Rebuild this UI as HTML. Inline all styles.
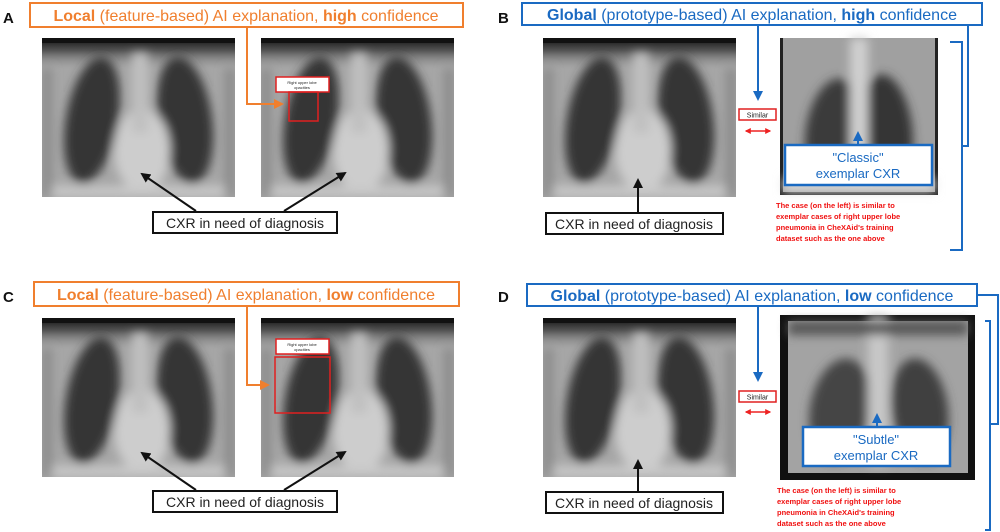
<!DOCTYPE html>
<html><head><meta charset="utf-8"><style>
html,body{margin:0;padding:0;background:#fff;width:1000px;height:532px;overflow:hidden}
svg{display:block;font-family:"Liberation Sans",Arial,sans-serif}
</style></head><body>
<svg width="1000" height="532" viewBox="0 0 1000 532" xmlns="http://www.w3.org/2000/svg">
<defs>
<filter id="bl" x="-20%" y="-20%" width="140%" height="140%"><feGaussianBlur stdDeviation="5"/></filter>
<filter id="bl2"><feGaussianBlur stdDeviation="3"/></filter>
<linearGradient id="top" x1="0" y1="0" x2="0" y2="1"><stop offset="0" stop-color="#111"/><stop offset="0.08" stop-color="#555"/><stop offset="0.2" stop-color="#9a9a9a" stop-opacity="0"/></linearGradient>
<clipPath id="cp"><rect x="0" y="0" width="193" height="159"/></clipPath>
<g id="xr">
<g clip-path="url(#cp)">
<rect width="193" height="159" fill="#a6a6a6"/>
<rect width="193" height="159" fill="url(#top)"/>
<g filter="url(#bl)">
<ellipse cx="50" cy="82" rx="26" ry="64" fill="#353535" transform="rotate(10 50 82)"/>
<ellipse cx="143" cy="82" rx="27" ry="64" fill="#353535" transform="rotate(-8 143 82)"/>
<ellipse cx="100" cy="112" rx="28" ry="42" fill="#cdcdcd"/>
<rect x="90" y="15" width="16" height="80" fill="#c0c0c0"/>
<rect x="0" y="148" width="193" height="11" fill="#c9c9c9"/>
<rect x="0" y="30" width="10" height="129" fill="#8a8a8a"/>
<rect x="183" y="30" width="10" height="129" fill="#8a8a8a"/>
</g>
<rect x="0" y="0" width="193" height="5" fill="#111"/>
</g>
</g>
<g id="ex1">
<rect width="158" height="157" fill="#222"/>
<rect x="3" y="0" width="152" height="154" fill="#a0a0a0"/>
<g filter="url(#bl)">
<ellipse cx="52" cy="92" rx="26" ry="52" fill="#3a3a3a" transform="rotate(10 52 92)"/>
<ellipse cx="108" cy="90" rx="24" ry="54" fill="#363636" transform="rotate(-8 108 90)"/>
<rect x="70" y="0" width="18" height="150" fill="#d0d0d0"/>
<rect x="3" y="140" width="152" height="14" fill="#d8d8d8"/>
</g>
</g>
<g id="ex2">
<rect width="195" height="165" fill="#111"/>
<rect x="8" y="6" width="180" height="152" fill="#a3a3a3"/>
<g filter="url(#bl)">
<ellipse cx="60" cy="95" rx="30" ry="52" fill="#444" transform="rotate(10 60 95)"/>
<ellipse cx="140" cy="95" rx="28" ry="52" fill="#404040" transform="rotate(-8 140 95)"/>
<rect x="88" y="0" width="20" height="150" fill="#c8c8c8"/>
<rect x="8" y="6" width="180" height="14" fill="#555"/>
</g>
</g>
<marker id="ao" viewBox="0 0 10 10" refX="8" refY="5" markerWidth="5" markerHeight="5" orient="auto"><path d="M0,0L10,5L0,10z" fill="#f07f2e"/></marker>
<marker id="ab" viewBox="0 0 10 10" refX="8" refY="5" markerWidth="5" markerHeight="5" orient="auto"><path d="M0,0L10,5L0,10z" fill="#1a6ac2"/></marker>
<marker id="ak" viewBox="0 0 10 10" refX="8" refY="5" markerWidth="5" markerHeight="5" orient="auto"><path d="M0,0L10,5L0,10z" fill="#111"/></marker>
<marker id="ar" viewBox="0 0 10 10" refX="8" refY="5" markerWidth="4" markerHeight="4" orient="auto-start-reverse"><path d="M0,0L10,5L0,10z" fill="#e22"/></marker>
</defs>

<g>
<text x="3" y="23" font-size="15" font-weight="bold" fill="#111">A</text>
<rect x="30" y="3" width="433" height="24" fill="#fff" stroke="#f07f2e" stroke-width="2"/>
<text x="246" y="21" font-size="16" fill="#f07f2e" text-anchor="middle"><tspan font-weight="bold">Local</tspan> (feature-based) AI explanation, <tspan font-weight="bold">high</tspan> confidence</text>
<use href="#xr" x="42" y="38"/>
<use href="#xr" x="261" y="38"/>
<rect x="276" y="77" width="53" height="15" fill="#fff" stroke="#e02020" stroke-width="1.5"/>
<text x="302" y="84" font-size="4" text-anchor="middle" fill="#222">Right upper lobe</text>
<text x="302" y="89" font-size="4" text-anchor="middle" fill="#222">opacities</text>
<rect x="289" y="92" width="29" height="29" fill="none" stroke="#e02020" stroke-width="1.5"/>
<path d="M247,28V104H282" fill="none" stroke="#f07f2e" stroke-width="2" marker-end="url(#ao)"/>
<path d="M196,211L142,174" stroke="#111" stroke-width="2" marker-end="url(#ak)"/>
<path d="M284,211L345,173" stroke="#111" stroke-width="2" marker-end="url(#ak)"/>
<rect x="153" y="212" width="184" height="21" fill="#fff" stroke="#111" stroke-width="2"/>
<text x="245" y="228" font-size="14" text-anchor="middle" fill="#222">CXR in need of diagnosis</text>
</g>

<g>
<text x="3" y="302" font-size="15" font-weight="bold" fill="#111">C</text>
<rect x="34" y="282" width="425" height="24" fill="#fff" stroke="#f07f2e" stroke-width="2"/>
<text x="246" y="300" font-size="16" fill="#f07f2e" text-anchor="middle"><tspan font-weight="bold">Local</tspan> (feature-based) AI explanation, <tspan font-weight="bold">low</tspan> confidence</text>
<use href="#xr" x="42" y="318"/>
<use href="#xr" x="261" y="318"/>
<rect x="276" y="339" width="53" height="15" fill="#fff" stroke="#e02020" stroke-width="1.5"/>
<text x="302" y="346" font-size="4" text-anchor="middle" fill="#222">Right upper lobe</text>
<text x="302" y="351" font-size="4" text-anchor="middle" fill="#222">opacities</text>
<rect x="275" y="357" width="55" height="56" fill="none" stroke="#e02020" stroke-width="1.5"/>
<path d="M247,307V385H268" fill="none" stroke="#f07f2e" stroke-width="2" marker-end="url(#ao)"/>
<path d="M196,490L142,453" stroke="#111" stroke-width="2" marker-end="url(#ak)"/>
<path d="M284,490L345,452" stroke="#111" stroke-width="2" marker-end="url(#ak)"/>
<rect x="153" y="491" width="184" height="21" fill="#fff" stroke="#111" stroke-width="2"/>
<text x="245" y="507" font-size="14" text-anchor="middle" fill="#222">CXR in need of diagnosis</text>
</g>

<g>
<text x="498" y="23" font-size="15" font-weight="bold" fill="#111">B</text>
<rect x="522" y="3" width="460" height="22" fill="#fff" stroke="#1a6ac2" stroke-width="2"/>
<text x="752" y="20" font-size="16" fill="#1a6ac2" text-anchor="middle"><tspan font-weight="bold">Global</tspan> (prototype-based) AI explanation, <tspan font-weight="bold">high</tspan> confidence</text>
<use href="#xr" x="543" y="38"/>
<use href="#ex1" x="780" y="38"/>
<path d="M758,26V99" stroke="#1a6ac2" stroke-width="2" marker-end="url(#ab)"/>
<rect x="739" y="109" width="37" height="11" fill="#fff" stroke="#e02020" stroke-width="1.5"/>
<text x="757.5" y="117.5" font-size="7" text-anchor="middle" fill="#222">Similar</text>
<path d="M746,131H770" stroke="#e22" stroke-width="1.5" marker-start="url(#ar)" marker-end="url(#ar)"/>
<path d="M858,145V133" stroke="#1a6ac2" stroke-width="2" marker-end="url(#ab)"/>
<rect x="785" y="145" width="147" height="40" fill="#fff" stroke="#1a6ac2" stroke-width="2.5"/>
<text x="858" y="162" font-size="13" text-anchor="middle" fill="#1a6ac2">"Classic"</text>
<text x="858" y="178" font-size="13" text-anchor="middle" fill="#1a6ac2">exemplar CXR</text>
<g font-size="7.5" font-weight="bold" fill="#f01010">
<text x="776" y="208">The case (on the left) is similar to</text>
<text x="776" y="219">exemplar cases of  right upper lobe</text>
<text x="776" y="230">pneumonia in CheXAid's  training</text>
<text x="776" y="241">dataset such as the one above</text>
</g>
<path d="M950,42H962V250H950M962,146H968V25" fill="none" stroke="#1a6ac2" stroke-width="2"/>
<path d="M638,212V180" stroke="#111" stroke-width="2" marker-end="url(#ak)"/>
<rect x="546" y="213" width="177" height="21" fill="#fff" stroke="#111" stroke-width="2"/>
<text x="634" y="229" font-size="14" text-anchor="middle" fill="#222">CXR in need of diagnosis</text>
</g>

<g>
<text x="498" y="302" font-size="15" font-weight="bold" fill="#111">D</text>
<rect x="527" y="284" width="450" height="22" fill="#fff" stroke="#1a6ac2" stroke-width="2"/>
<text x="752" y="301" font-size="16" fill="#1a6ac2" text-anchor="middle"><tspan font-weight="bold">Global</tspan> (prototype-based) AI explanation, <tspan font-weight="bold">low</tspan> confidence</text>
<use href="#xr" x="543" y="318"/>
<use href="#ex2" x="780" y="315"/>
<path d="M758,307V380" stroke="#1a6ac2" stroke-width="2" marker-end="url(#ab)"/>
<rect x="739" y="391" width="37" height="11" fill="#fff" stroke="#e02020" stroke-width="1.5"/>
<text x="757.5" y="399.5" font-size="7" text-anchor="middle" fill="#222">Similar</text>
<path d="M746,412H770" stroke="#e22" stroke-width="1.5" marker-start="url(#ar)" marker-end="url(#ar)"/>
<path d="M877,427V415" stroke="#1a6ac2" stroke-width="2" marker-end="url(#ab)"/>
<rect x="803" y="427" width="147" height="39" fill="#fff" stroke="#1a6ac2" stroke-width="2.5"/>
<text x="876" y="444" font-size="13" text-anchor="middle" fill="#1a6ac2">"Subtle"</text>
<text x="876" y="460" font-size="13" text-anchor="middle" fill="#1a6ac2">exemplar CXR</text>
<g font-size="7.5" font-weight="bold" fill="#f01010">
<text x="777" y="493">The case (on the left) is similar to</text>
<text x="777" y="504">exemplar cases of  right upper lobe</text>
<text x="777" y="515">pneumonia in CheXAid's  training</text>
<text x="777" y="526">dataset such as the one above</text>
</g>
<path d="M985,321H990V530H985M990,424H998V295H977" fill="none" stroke="#1a6ac2" stroke-width="2"/>
<path d="M638,491V461" stroke="#111" stroke-width="2" marker-end="url(#ak)"/>
<rect x="546" y="492" width="177" height="21" fill="#fff" stroke="#111" stroke-width="2"/>
<text x="634" y="508" font-size="14" text-anchor="middle" fill="#222">CXR in need of diagnosis</text>
</g>
</svg>
</body></html>
